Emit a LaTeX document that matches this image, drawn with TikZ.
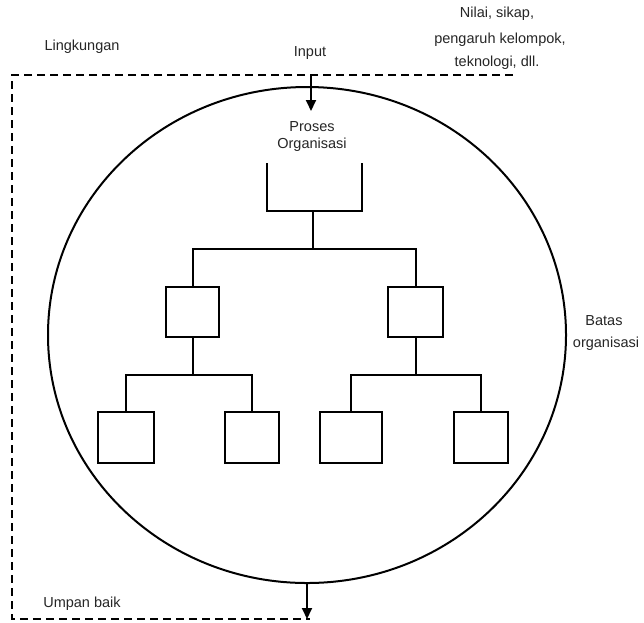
\documentclass[tikz,border=0pt]{standalone}
\usepackage{fontspec}
\setmainfont{Liberation Sans}
\usetikzlibrary{arrows.meta,shapes.geometric}
\begin{document}
\begin{tikzpicture}[x=1pt,y=-1pt,
  lbl/.style={font=\fontsize{14.5}{17}\selectfont, inner sep=0pt, text=black!85},
  unitbox/.style={draw, line width=2pt, inner sep=0pt, minimum height=50pt},
  ln/.style={line width=2pt},
  dsh/.style={line width=2.2pt, dash pattern=on 8pt off 5pt},
  arr/.style={-{Triangle[width=10pt,length=11pt]}, line width=1.8pt}]
\useasboundingbox (0,0) rectangle (644,622);
\fill[white] (0,0) rectangle (644,622);

% environment boundary
\coordinate (tl) at (12,75);
\coordinate (tr) at (513,75);
\coordinate (bl) at (12,619);
\coordinate (br) at (310,619);
\draw[dsh] (tr) -- (tl) -- (bl) -- (br);

% organisation boundary
\node[ellipse, draw, line width=2pt, minimum width=518pt, minimum height=496pt, inner sep=0pt] (org) at (307,335) {};

% labels
\node[lbl] (lingk) at (82,47) {Lingkungan};
\node[lbl] (input) at (310,53) {Input};
\node[lbl] (n1) at (497,14) {Nilai, sikap,};
\node[lbl] (n2) at (500,40) {pengaruh kelompok,};
\node[lbl] (n3) at (497,63) {teknologi, dll.};
\node[lbl] (batas1) at (604,321) {Batas};
\node[lbl] (batas2) at (606,344) {organisasi};
\node[lbl] (umpan) at (82,604) {Umpan baik};
\node[lbl, align=center] (proses) at (312,137) {Proses\\Organisasi};

% arrows
\coordinate (inp) at (311,75);
\coordinate (inend) at (311,111);
\draw[arr] (inp) -- (inend);
\coordinate (fb) at (307,619);
\draw[arr] (org.south) -- (fb);

% top bracket
\coordinate (b1) at (267,163);
\coordinate (b2) at (267,211);
\coordinate (b3) at (362,211);
\coordinate (b4) at (362,163);
\draw[ln] (b1) -- (b2) -- (b3) -- (b4);
\coordinate (j0) at (313,211);
\coordinate (h1) at (313,249);
\draw[ln] (j0) -- (h1);

% boxes
\node[unitbox, minimum width=53pt] (L) at (192.5,312) {};
\node[unitbox, minimum width=55pt] (R) at (415.5,312) {};
\node[unitbox, minimum width=56pt, minimum height=51pt] (LL) at (126,437.5) {};
\node[unitbox, minimum width=54pt, minimum height=51pt] (LR) at (252,437.5) {};
\node[unitbox, minimum width=62pt, minimum height=51pt] (RL) at (351,437.5) {};
\node[unitbox, minimum width=54pt, minimum height=51pt] (RR) at (481,437.5) {};

% connectors
\draw[ln] (L.north) -- (L.north |- h1) -- (R.north |- h1) -- (R.north);
\coordinate (hl) at (0,375);
\draw[ln] (L.south) -- (L.south |- hl);
\draw[ln] (LL.north) -- (LL.north |- hl) -- (LR.north |- hl) -- (LR.north);
\draw[ln] (R.south) -- (R.south |- hl);
\draw[ln] (RL.north) -- (RL.north |- hl) -- (RR.north |- hl) -- (RR.north);
\end{tikzpicture}
\end{document}
